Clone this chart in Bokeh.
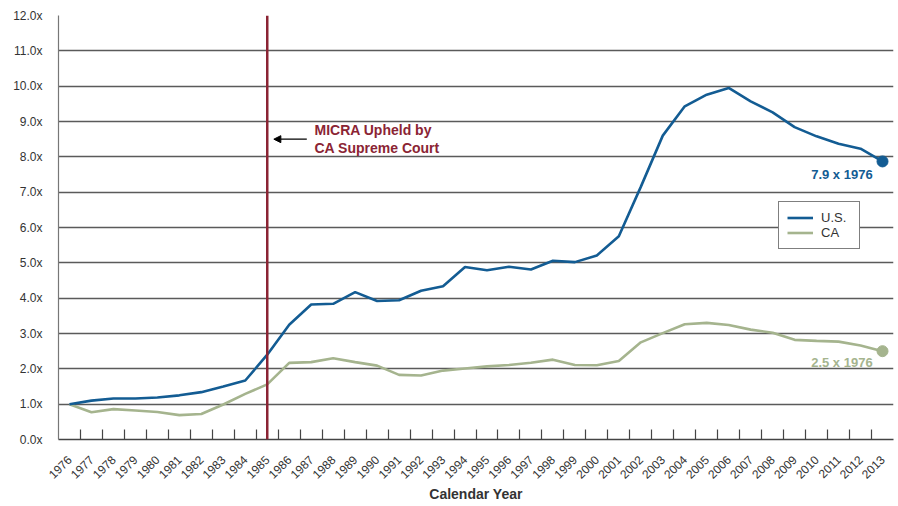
import math
from bokeh.plotting import figure
from bokeh.models import (Range1d, FixedTicker, Span, Arrow, NormalHead, Label,
                          Legend, LegendItem, ColumnDataSource)
from bokeh.embed import file_html
from bokeh.resources import INLINE

years = list(range(1976, 2014))
us = [1.00, 1.10, 1.16, 1.16, 1.19, 1.25, 1.34, 1.50, 1.67, 2.40,
      3.25, 3.82, 3.84, 4.17, 3.92, 3.94, 4.21, 4.34, 4.88, 4.79,
      4.89, 4.81, 5.06, 5.02, 5.21, 5.75, 7.15, 8.60, 9.43, 9.76,
      9.95, 9.57, 9.26, 8.84, 8.58, 8.37, 8.23, 7.87]
ca = [1.00, 0.77, 0.86, 0.82, 0.78, 0.69, 0.72, 0.99, 1.29, 1.56,
      2.17, 2.19, 2.30, 2.19, 2.09, 1.83, 1.81, 1.95, 2.01, 2.07,
      2.11, 2.17, 2.26, 2.11, 2.10, 2.22, 2.75, 3.01, 3.26, 3.30,
      3.24, 3.11, 3.02, 2.82, 2.79, 2.77, 2.66, 2.50]
y_ticks = list(range(0, 13))
y_tick_labels = [f"{v:.1f}x" for v in y_ticks]
event_year = 1985
event_text = "MICRA Upheld by\nCA Supreme Court"
us_end_text = "7.9 x 1976"
ca_end_text = "2.5 x 1976"
series_names = ["U.S.", "CA"]

BLUE = "#135C93"
GREEN = "#A5B48E"
MAROON = "#8B2434"
FONT = "Liberation Sans"

p = figure(width=898, height=506, output_backend="svg", toolbar_location=None,
           x_range=Range1d(years[0] - 0.5, years[-1] + 0.5),
           y_range=Range1d(0, 12),
           min_border_left=58, min_border_top=15, min_border_right=5,
           min_border_bottom=67)
p.outline_line_color = None
p.background_fill_color = "white"

# axes
xa = p.xaxis[0]
xa.ticker = FixedTicker(ticks=years, minor_ticks=[y + 0.5 for y in years[:-1]])
xa.major_tick_line_color = None
xa.minor_tick_in = 10
xa.minor_tick_out = 0
xa.minor_tick_line_color = "#444444"
xa.minor_tick_line_width = 1.2
xa.axis_line_color = "#444444"
xa.axis_line_width = 1.5
xa.major_label_orientation = math.pi / 4
xa.major_label_text_font = FONT
xa.major_label_text_font_size = "12px"
xa.major_label_text_color = "#333333"
xa.major_label_standoff = 12
xa.axis_label = "Calendar Year"
xa.axis_label_text_font = FONT
xa.axis_label_text_font_style = "bold"
xa.axis_label_text_font_size = "14px"
xa.axis_label_text_color = "#333333"
xa.axis_label_standoff = 0

ya = p.yaxis[0]
ya.ticker = FixedTicker(ticks=y_ticks)
ya.major_label_overrides = {t: l for t, l in zip(y_ticks, y_tick_labels)}
ya.major_tick_line_color = None
ya.minor_tick_line_color = None
ya.major_tick_out = 0
ya.major_label_standoff = 16
ya.axis_line_color = "#777777"
ya.axis_line_width = 1.2
ya.major_label_text_font = FONT
ya.major_label_text_font_size = "12px"
ya.major_label_text_color = "#333333"

p.xgrid.grid_line_color = None
p.ygrid.ticker = FixedTicker(ticks=y_ticks)
p.ygrid.grid_line_color = "#5a5a5a"
p.ygrid.grid_line_width = 1.3

# event line
p.add_layout(Span(location=event_year, dimension="height", line_color=MAROON,
                  line_width=2.5))

src = ColumnDataSource(dict(year=years, us=us, ca=ca))
r_ca = p.line("year", "ca", source=src, line_color=GREEN, line_width=2.6)
r_us = p.line("year", "us", source=src, line_color=BLUE, line_width=2.6)
p.scatter([years[-1]], [us[-1]], size=11, color=BLUE)
p.scatter([years[-1]], [ca[-1]], size=11, color=GREEN)

# annotation
p.add_layout(Arrow(end=NormalHead(size=7, fill_color="black", line_color="black"),
                   x_start=event_year + 1.8, y_start=8.5,
                   x_end=event_year + 0.3, y_end=8.5,
                   line_color="black", line_width=1.2))
p.add_layout(Label(x=event_year + 2.15, y=8.5, text=event_text,
                   text_font=FONT, text_font_style="bold", text_font_size="14px",
                   text_color=MAROON, text_baseline="middle", text_align="left",
                   text_line_height=1.15))
p.add_layout(Label(x=years[-1] - 0.45, y=us[-1] - 0.37, text=us_end_text,
                   text_font=FONT, text_font_style="bold", text_font_size="13px",
                   text_color=BLUE, text_baseline="middle", text_align="right"))
p.add_layout(Label(x=years[-1] - 0.45, y=ca[-1] - 0.32, text=ca_end_text,
                   text_font=FONT, text_font_style="bold", text_font_size="13px",
                   text_color=GREEN, text_baseline="middle", text_align="right"))

legend = Legend(items=[LegendItem(label=series_names[0], renderers=[r_us]),
                       LegendItem(label=series_names[1], renderers=[r_ca])],
                location=(720, 190), border_line_color="black",
                border_line_width=1.2, padding=8, spacing=0, margin=0,
                label_text_font=FONT, label_text_font_size="13px",
                label_text_color="#333333", glyph_width=26, glyph_height=13,
                label_height=13, label_width=30, label_standoff=8,
                background_fill_alpha=1)
p.add_layout(legend, "center")

open("out.html", "w").write(file_html(p, INLINE))
